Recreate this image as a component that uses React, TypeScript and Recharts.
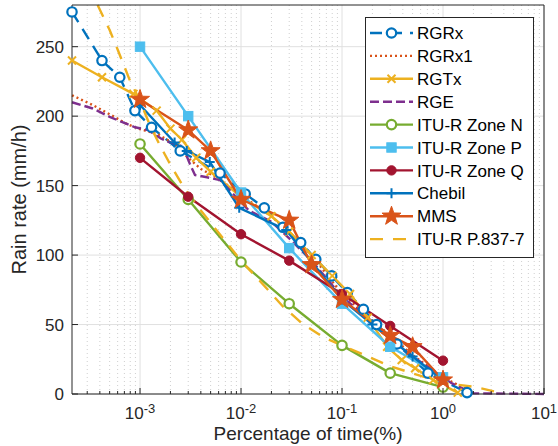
import React from "react"
import { LineChart, Line, XAxis, YAxis, CartesianGrid, Legend } from "recharts"

const FONT = "'Liberation Sans', Arial, Helvetica, sans-serif"
const INK = "#262626"

// ITU-R zone tables, percent of time -> rain rate
const ituPct = [0.001, 0.003, 0.01, 0.03, 0.1, 0.3, 1]
const zoneN = [180, 140, 95, 65, 35, 15, 5]
const zoneP = [250, 200, 145, 105, 65, 34, 12]
const zoneQ = [170, 142, 115, 96, 72, 49, 24]

const rgrxPct = [0.000212, 0.00042, 0.00063, 0.00089, 0.0013, 0.0025, 0.0062, 0.011, 0.017, 0.026, 0.039, 0.055, 0.079, 0.113, 0.163, 0.22, 0.35, 0.71, 1.73]
const rgrxRate = [275, 240, 228, 204, 192, 175, 159, 144, 134, 120, 109, 97, 85, 73, 61, 50, 36, 15, 1]

const rgrx1Pct = [0.000212, 0.00034, 0.00054, 0.00071, 0.00096, 0.0015, 0.0022, 0.003, 0.004, 0.006, 0.01, 0.02, 0.03, 0.05, 0.1, 0.2, 0.3, 0.5, 1, 2]
const rgrx1Rate = [215, 208, 200, 195, 191, 187, 180, 170, 162, 155, 143, 128, 116, 100, 72, 53, 42, 28, 12, 1]

const rgtxPct = [0.000212, 0.00042, 0.00086, 0.00146, 0.002, 0.0026, 0.0036, 0.005, 0.01, 0.02, 0.03, 0.05, 0.08, 0.12, 0.18, 0.28, 0.39, 0.53, 0.8, 1.4]
const rgtxRate = [240, 228, 216, 204, 191, 183, 170, 160, 142, 128, 117, 100, 85, 72, 55, 34, 24.5, 18.5, 10, 1]

const rgePct = [0.000212, 0.00034, 0.0005, 0.00065, 0.00089, 0.0012, 0.0016, 0.0019, 0.0025, 0.0028, 0.0031, 0.0035, 0.0046, 0.0062, 0.012, 0.02, 0.03, 0.05, 0.1, 0.2, 0.3, 0.5, 1.2, 2, 10]
const rgeRate = [210, 205.5, 199.5, 196, 192, 190, 184, 181.5, 179, 174, 166, 157.6, 156, 154, 132, 124, 112, 96, 70, 52, 40, 27, 8, 0.5, 0]

const chebilPct = [0.001, 0.0022, 0.0029, 0.0049, 0.0096, 0.028, 0.05, 0.1, 0.2, 0.5, 1]
const chebilRate = [208, 181, 175, 167, 134, 118, 95, 68, 50, 27, 10]

const mmsPct = [0.001, 0.003, 0.005, 0.01, 0.03, 0.05, 0.1, 0.3, 0.5, 1]
const mmsRate = [212, 190, 175, 140, 125, 93, 68, 42, 34, 10]

const p837Pct = [0.00038, 0.0005, 0.0006, 0.0008, 0.001, 0.00126, 0.0016, 0.002, 0.0027, 0.004, 0.0057, 0.01, 0.016, 0.026, 0.04, 0.065, 0.1, 0.3, 1, 2.1, 3.4]
const p837Rate = [280, 262, 248, 225, 211, 193, 178, 165, 149, 132, 118, 96, 80, 63, 51, 41, 35, 20, 8, 5, 1.5]

const xMin = 0.000212
const majorTicks = [0.001, 0.01, 0.1, 1, 10]
const minorTicks: number[] = []
for (let e = -4; e <= 0; e++) {
  for (let m = 2; m <= 9; m++) {
    const v = m * Math.pow(10, e)
    if (v > xMin) minorTicks.push(Number(v.toPrecision(3)))
  }
}
const allXTicks = [...minorTicks, ...majorTicks].sort((a, b) => a - b)
const yTicks = [0, 50, 100, 150, 200, 250]

const pts = (xs: number[], ys: number[]) => xs.map((x, i) => ({ x, y: ys[i] }))

type Marker = "circleOpen" | "circleFill" | "square" | "x" | "plus" | "star" | "none"

const series: { name: string; xs: number[]; ys: number[]; color: string; dash?: string; marker: Marker }[] = [
  { name: "RGRx", xs: rgrxPct, ys: rgrxRate, color: "#0072BD", dash: "12 8", marker: "circleOpen" },
  { name: "RGRx1", xs: rgrx1Pct, ys: rgrx1Rate, color: "#D95319", dash: "2 3", marker: "none" },
  { name: "RGTx", xs: rgtxPct, ys: rgtxRate, color: "#EDB120", marker: "x" },
  { name: "RGE", xs: rgePct, ys: rgeRate, color: "#7E2F8E", dash: "9 4", marker: "none" },
  { name: "ITU-R Zone N", xs: ituPct, ys: zoneN, color: "#77AC30", marker: "circleOpen" },
  { name: "ITU-R Zone P", xs: ituPct, ys: zoneP, color: "#4DBEEE", marker: "square" },
  { name: "ITU-R Zone Q", xs: ituPct, ys: zoneQ, color: "#A2142F", marker: "circleFill" },
  { name: "Chebil", xs: chebilPct, ys: chebilRate, color: "#0072BD", marker: "plus" },
  { name: "MMS", xs: mmsPct, ys: mmsRate, color: "#D95319", marker: "star" },
  { name: "ITU-R P.837-7", xs: p837Pct, ys: p837Rate, color: "#EDB120", dash: "13 10", marker: "none" },
]

function starPath(cx: number, cy: number, ro: number, ri: number) {
  let d = ""
  for (let i = 0; i < 10; i++) {
    const r = i % 2 === 0 ? ro : ri
    const a = -Math.PI / 2 + (i * Math.PI) / 5
    d += (i === 0 ? "M" : "L") + (cx + r * Math.cos(a)).toFixed(2) + "," + (cy + r * Math.sin(a)).toFixed(2)
  }
  return d + "Z"
}

function drawMarker(kind: Marker, color: string, cx: number, cy: number, key?: string) {
  switch (kind) {
    case "circleOpen":
      return <circle key={key} cx={cx} cy={cy} r={4.7} fill="#fff" stroke={color} strokeWidth={2.2} />
    case "circleFill":
      return <circle key={key} cx={cx} cy={cy} r={4.7} fill={color} stroke={color} strokeWidth={1} />
    case "square":
      return <rect key={key} x={cx - 4.7} y={cy - 4.7} width={9.4} height={9.4} fill={color} stroke={color} strokeWidth={1} />
    case "x":
      return <path key={key} d={`M${cx - 4},${cy - 4}L${cx + 4},${cy + 4}M${cx - 4},${cy + 4}L${cx + 4},${cy - 4}`} stroke={color} strokeWidth={2} fill="none" />
    case "plus":
      return <path key={key} d={`M${cx - 5},${cy}H${cx + 5}M${cx},${cy - 5}V${cy + 5}`} stroke={color} strokeWidth={2} fill="none" />
    case "star":
      return <path key={key} d={starPath(cx, cy, 10, 4)} fill={color} stroke={color} strokeWidth={1} strokeLinejoin="miter" />
    default:
      return <g key={key} />
  }
}

const BottomTick = (props: any) => {
  const { x, y, payload } = props
  const v = payload.value
  const major = majorTicks.includes(v)
  return (
    <g>
      <line x1={x} x2={x} y1={y} y2={y - (major ? 6 : 3)} stroke={INK} strokeWidth={1} />
      {major && (
        <text x={x} y={y + 25} textAnchor="middle" fontSize={17} fontFamily={FONT} fill={INK}>
          10<tspan dy={-6} fontSize={13}>{Math.round(Math.log10(v))}</tspan>
        </text>
      )}
    </g>
  )
}

const TopTick = (props: any) => {
  const { x, y, payload } = props
  const major = majorTicks.includes(payload.value)
  return <line x1={x} x2={x} y1={y} y2={y + (major ? 6 : 3)} stroke={INK} strokeWidth={1} />
}

const LeftTick = (props: any) => {
  const { x, y, payload } = props
  return (
    <g>
      <line x1={x} x2={x + 6} y1={y} y2={y} stroke={INK} strokeWidth={1} />
      <text x={x - 8} y={y} dy="0.36em" textAnchor="end" fontSize={17} fontFamily={FONT} fill={INK}>
        {payload.value}
      </text>
    </g>
  )
}

const RightTick = (props: any) => {
  const { x, y } = props
  return <line x1={x} x2={x - 6} y1={y} y2={y} stroke={INK} strokeWidth={1} />
}

const XLabel = (props: any) => {
  const vb = props.viewBox
  return (
    <text x={vb.x + vb.width / 2} y={440} textAnchor="middle" fontSize={19} fontFamily={FONT} fill={INK}>
      Percentage of time(%)
    </text>
  )
}

const YLabel = (props: any) => {
  const vb = props.viewBox
  const cx = vb.x + 26
  const cy = vb.y + vb.height / 2
  return (
    <text x={cx} y={cy} transform={`rotate(-90 ${cx} ${cy})`} textAnchor="middle" fontSize={20} fontFamily={FONT} fill={INK}>
      Rain rate (mm/h)
    </text>
  )
}

const LegendBox = () => (
  <svg width={169} height={241} style={{ display: "block" }}>
    <rect x={0.5} y={0.5} width={168} height={240} fill="#fff" stroke={INK} strokeWidth={1} />
    {series.map((s, i) => {
      const cy = 16 + i * 22.9
      return (
        <g key={s.name}>
          <line x1={5} x2={48} y1={cy} y2={cy} stroke={s.color} strokeWidth={2.4} strokeDasharray={s.dash} />
          {drawMarker(s.marker, s.color, 26.5, cy)}
          <text x={52} y={cy} dy="0.36em" fontSize={17} fontFamily={FONT} fill="#000">
            {s.name}
          </text>
        </g>
      )
    })}
  </svg>
)

export default function App() {
  return (
    <div style={{ position: "absolute", left: 0, top: 0, background: "#fff" }}>
      <LineChart width={558} height={446} margin={{ top: 0, right: 0, bottom: 0, left: 0 }} style={{ fontFamily: FONT }}>
        <CartesianGrid verticalValues={minorTicks} horizontal={false} stroke="#cfcfcf" strokeDasharray="1 3" />
        <CartesianGrid verticalValues={majorTicks} horizontalValues={yTicks} stroke="#e0e0e0" />
        <XAxis
          dataKey="x"
          type="number"
          scale="log"
          domain={[xMin, 10]}
          ticks={allXTicks}
          interval={0}
          height={52}
          tickSize={0}
          tickMargin={0}
          tick={<BottomTick />}
          axisLine={{ stroke: INK }}
          label={XLabel}
        />
        <XAxis
          xAxisId="top"
          orientation="top"
          dataKey="x"
          type="number"
          scale="log"
          domain={[xMin, 10]}
          ticks={allXTicks}
          interval={0}
          height={5}
          tickSize={0}
          tickMargin={0}
          tick={<TopTick />}
          axisLine={{ stroke: INK }}
        />
        <YAxis
          type="number"
          domain={[0, 280]}
          ticks={yTicks}
          interval={0}
          width={72}
          tickSize={0}
          tickMargin={0}
          tick={<LeftTick />}
          axisLine={{ stroke: INK }}
          label={YLabel}
        />
        <YAxis
          yAxisId="right"
          orientation="right"
          type="number"
          domain={[0, 280]}
          ticks={yTicks}
          interval={0}
          width={14}
          tickSize={0}
          tickMargin={0}
          tick={<RightTick />}
          axisLine={{ stroke: INK }}
        />
        {series.map((s) => (
          <Line
            key={s.name}
            name={s.name}
            data={pts(s.xs, s.ys)}
            dataKey="y"
            type="linear"
            stroke={s.color}
            strokeWidth={2.4}
            strokeDasharray={s.dash}
            strokeLinejoin="round"
            dot={
              s.marker === "none"
                ? false
                : (p: any) =>
                    p.cx == null || p.cy == null
                      ? <g key={`${s.name}-${p.index}`} />
                      : drawMarker(s.marker, s.color, p.cx, p.cy, `${s.name}-${p.index}`)
            }
            activeDot={false}
            isAnimationActive={false}
          />
        ))}
        <Legend
          content={<LegendBox />}
          layout="vertical"
          align="center"
          verticalAlign="middle"
          wrapperStyle={{ left: 365, top: 17, width: 169, height: 241 }}
        />
      </LineChart>
    </div>
  )
}
